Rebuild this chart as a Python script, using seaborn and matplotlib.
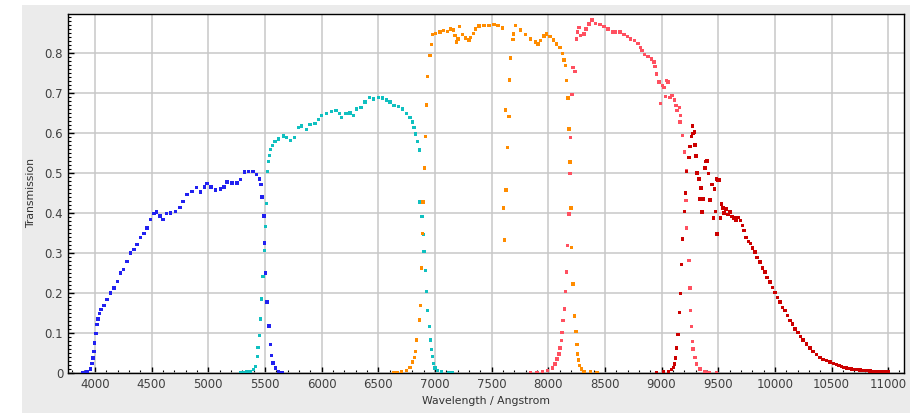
import pandas as pd
import numpy as np
import matplotlib
matplotlib.use("Agg")
import matplotlib.pyplot as plt
from matplotlib.patches import Rectangle
from matplotlib.ticker import MultipleLocator, FuncFormatter
import seaborn as sns

# =========================================================
# DATA
# =========================================================
g_wave = [3895, 3931, 3960, 3975, 3984, 3990, 3996, 4007, 4019, 4028, 4040, 4054, 4078,
          4107, 4137, 4166, 4196, 4225, 4254, 4284, 4313, 4343, 4372, 4401, 4431, 4460, 4490,
          4519, 4543, 4572, 4601, 4631, 4666, 4710, 4749, 4778, 4813, 4857, 4896, 4931, 4966,
          4990, 5025, 5063, 5107, 5137, 5166, 5210, 5254, 5284, 5319, 5357, 5396, 5425, 5454,
          5466, 5475, 5490, 5498, 5507, 5519, 5534, 5548, 5557, 5572, 5593, 5622, 5650]
g_trans = [0, 0.003, 0.01, 0.023, 0.037, 0.054, 0.075, 0.098, 0.121, 0.135, 0.148, 0.158, 0.168,
           0.183, 0.2, 0.212, 0.229, 0.25, 0.258, 0.279, 0.3, 0.308, 0.321, 0.338, 0.348, 0.362, 0.383,
           0.398, 0.402, 0.392, 0.383, 0.398, 0.4, 0.404, 0.413, 0.429, 0.446, 0.454, 0.463, 0.452, 0.465,
           0.473, 0.465, 0.457, 0.46, 0.465, 0.477, 0.475, 0.475, 0.483, 0.502, 0.504, 0.504, 0.496, 0.485,
           0.471, 0.44, 0.392, 0.325, 0.25, 0.177, 0.117, 0.071, 0.043, 0.025, 0.0125, 0.004, 0.001]

r_wave = [5284, 5310, 5340, 5370, 5400, 5418, 5432, 5440, 5452, 5461, 5469, 5481, 5496, 5505,
          5511, 5521, 5529, 5538, 5550, 5568, 5588, 5618, 5662, 5691, 5726, 5759, 5794, 5824,
          5868, 5897, 5941, 5971, 6000, 6044, 6088, 6126, 6156, 6176, 6215, 6250, 6279, 6309,
          6347, 6382, 6421, 6456, 6500, 6538, 6574, 6603, 6638, 6676, 6715, 6750, 6779, 6803,
          6815, 6829, 6844, 6862, 6868, 6885, 6897, 6903, 6915, 6924, 6932, 6950, 6959, 6968,
          6976, 6985, 7000, 7021, 7059, 7118, 7150]
r_trans = [0, 0.001, 0.002, 0.004, 0.008, 0.016, 0.041, 0.064, 0.093, 0.135, 0.185, 0.241, 0.306, 0.366,
           0.423, 0.504, 0.528, 0.543, 0.558, 0.568, 0.578, 0.585, 0.592, 0.589, 0.581, 0.588, 0.614, 0.617,
           0.608, 0.621, 0.623, 0.633, 0.643, 0.649, 0.654, 0.656, 0.648, 0.639, 0.648, 0.65, 0.643, 0.66,
           0.664, 0.677, 0.688, 0.685, 0.689, 0.6875, 0.6825, 0.677, 0.668, 0.666, 0.66, 0.649, 0.639, 0.627,
           0.614, 0.5975, 0.579, 0.5575, 0.427, 0.391, 0.346, 0.304, 0.256, 0.204, 0.156, 0.116, 0.0825, 0.059,
           0.041, 0.024, 0.0125, 0.006, 0.002, 0.0005, 0]

i_wave = [6640, 6670, 6706, 6750, 6779, 6803, 6818, 6826, 6838, 6862, 6874, 6879, 6888, 6894,
          6906, 6918, 6924, 6932, 6956, 6968, 6976, 7006, 7044, 7074, 7109, 7138, 7162, 7176,
          7188, 7203, 7218, 7241, 7271, 7300, 7315, 7338, 7359, 7388, 7432, 7476, 7521, 7556,
          7594, 7603, 7614, 7629, 7641, 7652, 7623, 7658, 7667, 7688, 7691, 7712, 7756, 7800,
          7844, 7888, 7909, 7932, 7962, 7985, 8015, 8044, 8074, 8103, 8126, 8138, 8153, 8162,
          8174, 8182, 8191, 8200, 8206, 8218, 8232, 8244, 8253, 8259, 8268, 8276, 8291, 8315,
          8374, 8432]
i_trans = [0, 0.001, 0.002, 0.006, 0.014, 0.027, 0.039, 0.054, 0.0825, 0.1325, 0.168, 0.2625, 0.349, 0.427,
           0.512, 0.591, 0.67, 0.741, 0.793, 0.821, 0.846, 0.849, 0.852, 0.856, 0.854, 0.86, 0.8575, 0.843,
           0.827, 0.835, 0.866, 0.846, 0.8375, 0.8325, 0.839, 0.849, 0.86, 0.867, 0.868, 0.868, 0.871, 0.868,
           0.8625, 0.412, 0.332, 0.4575, 0.564, 0.641, 0.6575, 0.7325, 0.787, 0.834, 0.8475, 0.868, 0.8575, 0.846,
           0.835, 0.827, 0.8225, 0.831, 0.842, 0.8475, 0.841, 0.8325, 0.8225, 0.814, 0.799, 0.7825, 0.768, 0.731,
           0.6875, 0.61, 0.527, 0.412, 0.314, 0.2225, 0.1425, 0.104, 0.071, 0.0475, 0.0325, 0.018, 0.01, 0.004,
           0.002, 0]

z_wave = [7844, 7900, 7950, 7991, 8035, 8059, 8079, 8094, 8103, 8115, 8121, 8129, 8141, 8153,
          8162, 8168, 8182, 8191, 8197, 8209, 8218, 8235, 8247, 8259, 8271, 8285, 8315, 8332,
          8359, 8388, 8418, 8456, 8491, 8529, 8565, 8594, 8632, 8668, 8697, 8726, 8762, 8791,
          8815, 8829, 8850, 8879, 8909, 8932, 8944, 8956, 8976, 8991, 9006, 9021, 9035, 9044,
          9056, 9074, 9094, 9115, 9126, 9138, 9156, 9162, 9168, 9185, 9203, 9221, 9215, 9221,
          9241, 9250, 9256, 9265, 9274, 9279, 9294, 9309, 9338, 9382, 9420, 9485]
z_trans = [0, 0.001, 0.003, 0.006, 0.0125, 0.0225, 0.035, 0.0475, 0.0625, 0.081, 0.1017, 0.131, 0.16, 0.204,
           0.252, 0.318, 0.3975, 0.499, 0.589, 0.696, 0.764, 0.753, 0.835, 0.852, 0.864, 0.843, 0.8475, 0.86,
           0.8725, 0.8825, 0.874, 0.871, 0.866, 0.86, 0.852, 0.852, 0.852, 0.846, 0.841, 0.835, 0.831, 0.824,
           0.814, 0.806, 0.796, 0.791, 0.785, 0.777, 0.766, 0.7475, 0.727, 0.674, 0.718, 0.714, 0.691, 0.731,
           0.727, 0.689, 0.693, 0.6825, 0.668, 0.656, 0.664, 0.627, 0.643, 0.593, 0.552, 0.506, 0.431, 0.3625,
           0.281, 0.2125, 0.156, 0.116, 0.078, 0.06, 0.039, 0.0225, 0.01, 0.003, 0.001, 0]

y_wave = [8956, 9015, 9059, 9088, 9103, 9112, 9121, 9132, 9147, 9159, 9168, 9176, 9185, 9200,
          9209, 9221, 9241, 9250, 9262, 9271, 9279, 9289, 9294, 9303, 9312, 9329, 9338, 9347,
          9356, 9368, 9382, 9391, 9401, 9412, 9426, 9444, 9456, 9465, 9476, 9485, 9491, 9500,
          9507, 9521, 9529, 9538, 9545, 9550, 9568, 9588, 9603, 9621, 9638, 9656, 9676, 9697,
          9715, 9726, 9744, 9765, 9785, 9803, 9824, 9844, 9868, 9891, 9912, 9932, 9956, 9979,
          10000, 10021, 10044, 10068, 10088, 10109, 10132, 10156, 10179, 10203, 10226, 10250, 10279, 10309,
          10338, 10368, 10397, 10426, 10456, 10485, 10515, 10544, 10566, 10588, 10610, 10632, 10655, 10676,
          10700, 10721, 10750, 10779, 10808, 10838, 10868, 10897, 10926, 10956, 10980, 10998]
y_trans = [0, 0.002, 0.003, 0.008, 0.014, 0.0225, 0.0375, 0.0625, 0.096, 0.151, 0.199, 0.271, 0.335, 0.404,
           0.45, 0.503, 0.539, 0.566, 0.591, 0.6175, 0.599, 0.602, 0.57, 0.542, 0.5, 0.485, 0.435, 0.4625,
           0.402, 0.435, 0.5125, 0.529, 0.53, 0.499, 0.4325, 0.471, 0.387, 0.46, 0.404, 0.485, 0.3475, 0.481,
           0.4825, 0.387, 0.4225, 0.412, 0.4135, 0.4, 0.41, 0.396, 0.402, 0.391, 0.387, 0.3825, 0.389, 0.381,
           0.368, 0.356, 0.339, 0.328, 0.324, 0.3125, 0.302, 0.289, 0.277, 0.2625, 0.252, 0.239, 0.227, 0.214,
           0.2017, 0.189, 0.177, 0.164, 0.156, 0.143, 0.131, 0.1225, 0.11, 0.1017, 0.091, 0.0825, 0.0725, 0.0625,
           0.054, 0.046, 0.039, 0.034, 0.031, 0.0275, 0.024, 0.021, 0.018, 0.016, 0.014, 0.0125, 0.011, 0.01,
           0.009, 0.008, 0.0073, 0.0067, 0.0058, 0.005, 0.004, 0.0033, 0.003, 0.0025, 0.0025, 0.002]

bands = ["g", "r", "i", "z", "y"]
band_colors = {"g": "#2121f0", "r": "#10c0c0", "i": "#ff8c00", "z": "#ff5060", "y": "#cc0000"}

x_ticks = [4000, 4500, 5000, 5500, 6000, 6500, 7000, 7500, 8000, 8500, 9000, 9500, 10000, 10500, 11000]
y_ticks = [0, 0.1, 0.2, 0.3, 0.4, 0.5, 0.6, 0.7, 0.8]

# one long table for seaborn
frames = []
for b, w, t in zip(bands, [g_wave, r_wave, i_wave, z_wave, y_wave],
                   [g_trans, r_trans, i_trans, z_trans, y_trans]):
    frames.append(pd.DataFrame({"wave": w, "trans": t, "band": b}))
df = pd.concat(frames, ignore_index=True)

# =========================================================
# PLOT
# =========================================================
sns.set_style("white")
plt.rcParams["font.family"] = ["DejaVu Sans"]

fig = plt.figure(figsize=(9.22, 4.13), dpi=100)
fig.patch.set_facecolor("white")
# light grey panel behind the axes
fig.patches.append(Rectangle((0.024, 0.0), 0.963, 0.988, transform=fig.transFigure,
                             facecolor="#ebebeb", edgecolor="none", zorder=-1))

ax = fig.add_axes([0.0738, 0.097, 0.9067, 0.869])
ax.set_facecolor("white")

sns.scatterplot(data=df, x="wave", y="trans", hue="band", palette=band_colors,
                marker="s", s=6, linewidth=0, legend=False, ax=ax, zorder=3)

ax.set_xlim(3762, 11140)
ax.set_ylim(0, 0.897)
ax.set_xticks(x_ticks)
ax.set_yticks(y_ticks)
ax.xaxis.set_minor_locator(MultipleLocator(100))
ax.yaxis.set_minor_locator(MultipleLocator(0.01))
ax.yaxis.set_major_formatter(FuncFormatter(lambda v, _: "0" if v == 0 else f"{v:.1f}"))

ax.grid(True, which="major", color="#c8c8c8", linewidth=1.1, zorder=0)
ax.set_axisbelow(True)
ax.tick_params(which="both", direction="in", bottom=True, left=True, top=False, right=False,
               colors="black", labelcolor="#404040", labelsize=8.5)
ax.tick_params(which="major", length=4, width=1)
ax.tick_params(which="minor", length=2, width=0.8)
for sp in ax.spines.values():
    sp.set_color("black")
    sp.set_linewidth(1)

ax.set_xlabel("Wavelength / Angstrom", fontsize=7.8, color="#333333", labelpad=4)
ax.set_ylabel("Transmission", fontsize=7.8, color="#333333", labelpad=6)

plt.savefig("out.png", dpi=100)
